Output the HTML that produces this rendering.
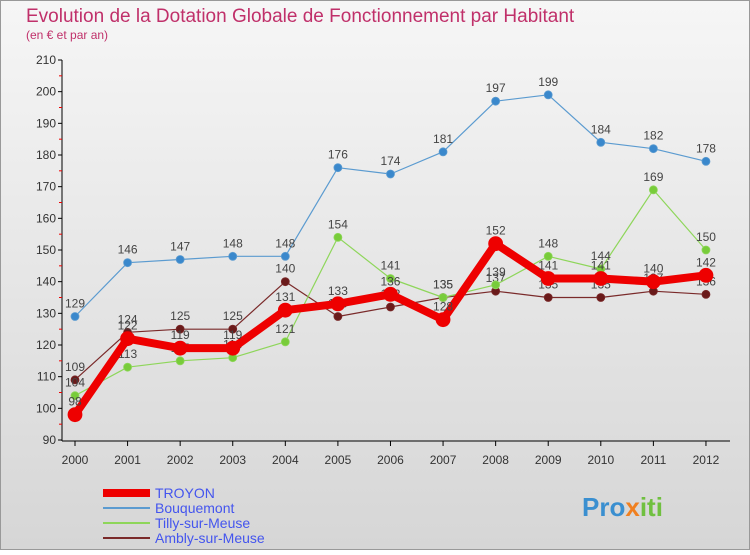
<!DOCTYPE html>
<html><head><meta charset="utf-8"><style>
body{margin:0;width:750px;height:550px;overflow:hidden;font-family:"Liberation Sans","DejaVu Sans",sans-serif}
</style></head><body>
<svg id="c" width="750" height="550" xmlns="http://www.w3.org/2000/svg">
<defs><linearGradient id="bg" x1="0" y1="0" x2="0" y2="1"><stop offset="0" stop-color="#f6f6f6"/><stop offset="1" stop-color="#d6d6d6"/></linearGradient></defs>
<rect x="0.5" y="0.5" width="749" height="549" fill="url(#bg)" stroke="#999"/>
<text x="26" y="22" font-size="19" fill="#c0306a">Evolution de la Dotation Globale de Fonctionnement par Habitant</text>
<text x="26" y="39" font-size="12" fill="#c0306a">(en € et par an)</text>
<g id="axes"></g><g id="series"></g>
<g>
<line x1="103" y1="493" x2="150" y2="493" stroke="#e00" stroke-width="8"/><text x="155" y="498" font-size="14" fill="#4455ee">TROYON</text>
<line x1="103" y1="508" x2="150" y2="508" stroke="#5b9bd0" stroke-width="2"/><text x="155" y="513" font-size="14" fill="#4455ee">Bouquemont</text>
<line x1="103" y1="523" x2="150" y2="523" stroke="#8ed65a" stroke-width="2"/><text x="155" y="528" font-size="14" fill="#4455ee">Tilly-sur-Meuse</text>
<line x1="103" y1="538" x2="150" y2="538" stroke="#7a2a2a" stroke-width="2"/><text x="155" y="543" font-size="14" fill="#4455ee">Ambly-sur-Meuse</text>
</g>
<text x="582" y="516" font-size="26" font-weight="bold" fill="#3a8fd0">Pro<tspan fill="#f08020">x</tspan><tspan fill="#70c040">iti</tspan></text>
</svg>
<script>
const years=["2000","2001","2002","2003","2004","2005","2006","2007","2008","2009","2010","2011","2012"];
const yTicks=[90,100,110,120,130,140,150,160,170,180,190,200,210];
const troyon=[98,122,119,119,131,133,136,128,152,141,141,140,142];
const bouquemont=[129,146,147,148,148,176,174,181,197,199,184,182,178];
const tilly=[104,113,115,116,121,154,141,135,139,148,144,169,150];
const ambly=[109,124,125,125,140,129,132,135,137,135,135,137,136];
const NS="http://www.w3.org/2000/svg";
const X=i=>75+i*52.58, Y=v=>440-(v-90)*380/120;
function mk(t,a,p){const e=document.createElementNS(NS,t);for(const k in a)e.setAttribute(k,a[k]);(p||document.getElementById('series')).appendChild(e);return e;}
const ax=document.getElementById('axes');
let e=mk('line',{x1:62,y1:60,x2:62,y2:441,stroke:'#000'},ax);


e=mk('line',{x1:62,y1:441,x2:730,y2:441,stroke:'#000'},ax);


yTicks.forEach(v=>{mk('line',{x1:58,y1:Y(v),x2:62,y2:Y(v),stroke:'#000'},ax);
if(v<210)mk('line',{x1:59,y1:Y(v+5),x2:62,y2:Y(v+5),stroke:'#e00'},ax);
const t=mk('text',{x:56,y:Y(v)+4,'font-size':12,fill:'#333','text-anchor':'end'},ax);t.textContent=v;

});
years.forEach((y,i)=>{mk('line',{x1:X(i),y1:441,x2:X(i),y2:446,stroke:'#000'},ax);
const t=mk('text',{x:X(i),y:464,'font-size':12,fill:'#333','text-anchor':'middle'},ax);t.textContent=y;

});
function draw(d,name,col,w,r,dot){const g=mk('g',{});


mk('polyline',{points:d.map((v,i)=>X(i)+','+Y(v)).join(' '),fill:'none',stroke:col,'stroke-width':w,'stroke-linejoin':'round'},g);
d.forEach((v,i)=>{const c=mk('circle',{cx:X(i),cy:Y(v),r:r,fill:dot,stroke:col,'stroke-width':0.8},g);


const t=mk('text',{x:X(i),y:Y(v)-9,'font-size':12,fill:'#444','text-anchor':'middle'},g);t.textContent=v;

});}
draw(ambly,'ambly','#7a2a2a',1.2,4,'#6a1a1a');
draw(tilly,'tilly','#8ed65a',1.2,4,'#78cc3a');
draw(bouquemont,'bouquemont','#5b9bd0',1.2,4,'#3a88cc');
draw(troyon,'troyon','#ee0000',8,7,'#ee0000');
</script>
</body></html>
